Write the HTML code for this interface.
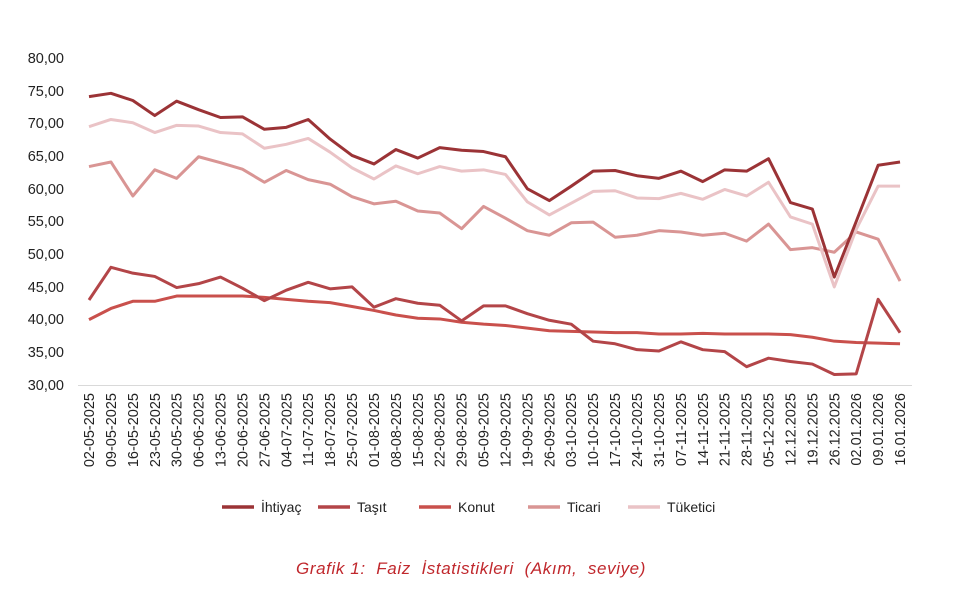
<!DOCTYPE html>
<html><head><meta charset="utf-8"><style>
html,body{margin:0;padding:0;background:#fff;}
svg{display:block;font-family:"Liberation Sans",sans-serif;}
</style></head><body>
<svg width="960" height="595" viewBox="0 0 960 595">
<g font-size="14.5" fill="#222" text-anchor="end">
<text x="64" y="63">80,00</text><text x="64" y="96">75,00</text><text x="64" y="128">70,00</text><text x="64" y="161">65,00</text><text x="64" y="194">60,00</text><text x="64" y="226">55,00</text><text x="64" y="259">50,00</text><text x="64" y="292">45,00</text><text x="64" y="324">40,00</text><text x="64" y="357">35,00</text><text x="64" y="390">30,00</text>
</g>
<line x1="78" y1="385.5" x2="912" y2="385.5" stroke="#d9d9d9" stroke-width="1"/>
<g transform="translate(89,385) scale(21.92,-6.54) translate(0,-30)" fill="none" stroke-width="3" stroke-linejoin="round">
<polyline vector-effect="non-scaling-stroke" stroke="#c9504c" points="0,40.0 1,41.7 2,42.8 3,42.8 4,43.6 5,43.6 6,43.6 7,43.6 8,43.4 9,43.1 10,42.8 11,42.6 12,42.0 13,41.4 14,40.7 15,40.2 16,40.1 17,39.6 18,39.3 19,39.1 20,38.7 21,38.3 22,38.2 23,38.1 24,38.0 25,38.0 26,37.8 27,37.8 28,37.9 29,37.8 30,37.8 31,37.8 32,37.7 33,37.3 34,36.7 35,36.5 36,36.4 37,36.3"/>
<polyline vector-effect="non-scaling-stroke" stroke="#b34548" points="0,43.0 1,48.0 2,47.1 3,46.6 4,44.9 5,45.5 6,46.5 7,44.8 8,42.9 9,44.5 10,45.7 11,44.7 12,45.0 13,41.9 14,43.2 15,42.5 16,42.2 17,39.8 18,42.1 19,42.1 20,40.9 21,39.9 22,39.3 23,36.7 24,36.3 25,35.4 26,35.2 27,36.6 28,35.4 29,35.1 30,32.8 31,34.1 32,33.6 33,33.2 34,31.6 35,31.7 36,43.1 37,38.0"/>
<polyline vector-effect="non-scaling-stroke" stroke="#d99594" points="0,63.4 1,64.1 2,58.9 3,62.9 4,61.6 5,64.9 6,64.0 7,63.0 8,61.0 9,62.8 10,61.4 11,60.7 12,58.8 13,57.7 14,58.1 15,56.6 16,56.3 17,53.9 18,57.3 19,55.5 20,53.6 21,52.9 22,54.8 23,54.9 24,52.6 25,52.9 26,53.6 27,53.4 28,52.9 29,53.2 30,52.0 31,54.6 32,50.7 33,51.0 34,50.3 35,53.4 36,52.3 37,45.9"/>
<polyline vector-effect="non-scaling-stroke" stroke="#eac3c6" points="0,69.5 1,70.6 2,70.1 3,68.6 4,69.7 5,69.6 6,68.6 7,68.4 8,66.2 9,66.8 10,67.7 11,65.6 12,63.2 13,61.5 14,63.5 15,62.3 16,63.4 17,62.7 18,62.9 19,62.2 20,58.0 21,56.0 22,57.8 23,59.6 24,59.7 25,58.6 26,58.5 27,59.3 28,58.4 29,59.9 30,58.9 31,61.0 32,55.7 33,54.6 34,45.0 35,53.8 36,60.4 37,60.4"/>
<polyline vector-effect="non-scaling-stroke" stroke="#9b3336" points="0,74.1 1,74.6 2,73.5 3,71.2 4,73.4 5,72.1 6,70.9 7,71.0 8,69.1 9,69.4 10,70.6 11,67.6 12,65.1 13,63.8 14,66.0 15,64.7 16,66.3 17,65.9 18,65.7 19,64.9 20,60.0 21,58.2 22,60.4 23,62.7 24,62.8 25,62.0 26,61.6 27,62.7 28,61.1 29,62.9 30,62.7 31,64.6 32,57.9 33,56.9 34,46.5 35,55.0 36,63.6 37,64.1"/>
</g>
<g font-size="14.5" fill="#222" text-anchor="end">
<text transform="translate(94,393) rotate(-90)">02-05-2025</text>
<text transform="translate(115.9,393) rotate(-90)">09-05-2025</text>
<text transform="translate(137.8,393) rotate(-90)">16-05-2025</text>
<text transform="translate(159.8,393) rotate(-90)">23-05-2025</text>
<text transform="translate(181.7,393) rotate(-90)">30-05-2025</text>
<text transform="translate(203.6,393) rotate(-90)">06-06-2025</text>
<text transform="translate(225.5,393) rotate(-90)">13-06-2025</text>
<text transform="translate(247.4,393) rotate(-90)">20-06-2025</text>
<text transform="translate(269.4,393) rotate(-90)">27-06-2025</text>
<text transform="translate(291.3,393) rotate(-90)">04-07-2025</text>
<text transform="translate(313.2,393) rotate(-90)">11-07-2025</text>
<text transform="translate(335.1,393) rotate(-90)">18-07-2025</text>
<text transform="translate(357,393) rotate(-90)">25-07-2025</text>
<text transform="translate(379,393) rotate(-90)">01-08-2025</text>
<text transform="translate(400.9,393) rotate(-90)">08-08-2025</text>
<text transform="translate(422.8,393) rotate(-90)">15-08-2025</text>
<text transform="translate(444.7,393) rotate(-90)">22-08-2025</text>
<text transform="translate(466.6,393) rotate(-90)">29-08-2025</text>
<text transform="translate(488.6,393) rotate(-90)">05-09-2025</text>
<text transform="translate(510.5,393) rotate(-90)">12-09-2025</text>
<text transform="translate(532.4,393) rotate(-90)">19-09-2025</text>
<text transform="translate(554.3,393) rotate(-90)">26-09-2025</text>
<text transform="translate(576.2,393) rotate(-90)">03-10-2025</text>
<text transform="translate(598.2,393) rotate(-90)">10-10-2025</text>
<text transform="translate(620.1,393) rotate(-90)">17-10-2025</text>
<text transform="translate(642,393) rotate(-90)">24-10-2025</text>
<text transform="translate(663.9,393) rotate(-90)">31-10-2025</text>
<text transform="translate(685.8,393) rotate(-90)">07-11-2025</text>
<text transform="translate(707.8,393) rotate(-90)">14-11-2025</text>
<text transform="translate(729.7,393) rotate(-90)">21-11-2025</text>
<text transform="translate(751.6,393) rotate(-90)">28-11-2025</text>
<text transform="translate(773.5,393) rotate(-90)">05-12-2025</text>
<text transform="translate(795.4,393) rotate(-90)">12.12.2025</text>
<text transform="translate(817.4,393) rotate(-90)">19.12.2025</text>
<text transform="translate(839.3,393) rotate(-90)">26.12.2025</text>
<text transform="translate(861.2,393) rotate(-90)">02.01.2026</text>
<text transform="translate(883.1,393) rotate(-90)">09.01.2026</text>
<text transform="translate(905,393) rotate(-90)">16.01.2026</text>
</g>
<g stroke-width="3.5" font-size="14" fill="#222">
<line x1="222" y1="507" x2="254" y2="507" stroke="#9b3336"/><text x="261" y="512">İhtiyaç</text>
<line x1="318" y1="507" x2="350" y2="507" stroke="#b34548"/><text x="357" y="512">Taşıt</text>
<line x1="419" y1="507" x2="451" y2="507" stroke="#c9504c"/><text x="458" y="512">Konut</text>
<line x1="528" y1="507" x2="560" y2="507" stroke="#d99594"/><text x="567" y="512">Ticari</text>
<line x1="628" y1="507" x2="660" y2="507" stroke="#eac3c6"/><text x="667" y="512">Tüketici</text>
</g>
<text x="471" y="574" text-anchor="middle" font-size="17" font-style="italic" fill="#c0282d" letter-spacing="0.6" xml:space="preserve">Grafik 1:  Faiz  İstatistikleri  (Akım,  seviye)</text>
</svg>
</body></html>
